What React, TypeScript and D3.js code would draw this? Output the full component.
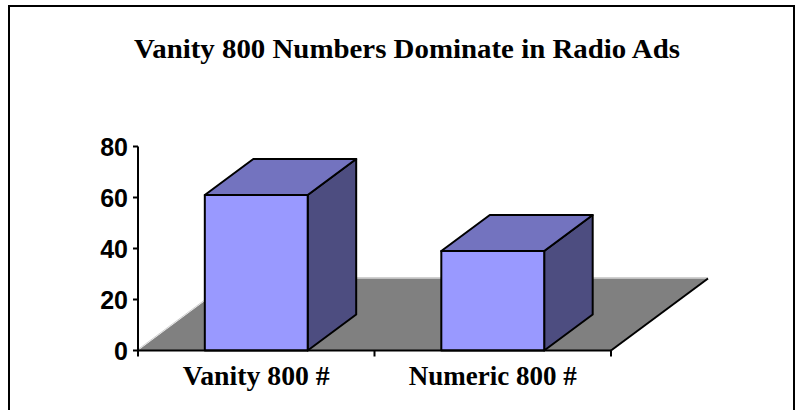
import React from "react";
import * as d3 from "d3";

const categories = ["Vanity 800 #", "Numeric 800 #"];
const values = [61, 39];
const yTicks = [0, 20, 40, 60, 80];
const title = "Vanity 800 Numbers Dominate in Radio Ads";

export default function App() {
  const W = 796, H = 410;
  const x0 = 138, x1 = 611, yBase = 350.5, yTop = 146.5;
  const x = d3.scaleBand<string>().domain(categories).range([x0, x1]).paddingInner(0.565).paddingOuter(0.2825);
  const y = d3.scaleLinear().domain([0, 80]).range([yBase, yTop]);
  const fdx = 97, fdy = -72;
  const bdx = fdx / 2, bdy = fdy / 2;
  const line = d3.line();
  const labelLen = [147, 168];

  const floor = [[x0, yBase], [x1, yBase], [x1 + fdx, yBase + fdy], [x0 + fdx, yBase + fdy]] as [number, number][];

  return (
    <svg width={W} height={H} style={{ position: "absolute", left: 0, top: 0 }}>
      <rect x={0} y={0} width={W} height={H} fill="#fff" />
      <rect x={9} y={6} width={785} height={420} fill="#fff" stroke="#000" strokeWidth={2} />
      <text x={407} y={58} textAnchor="middle" fontFamily="'Liberation Serif', 'Times New Roman', serif" fontWeight="bold" fontSize={28} textLength={546} lengthAdjust="spacingAndGlyphs">{title}</text>

      {/* floor */}
      <path d={line(floor) + "Z"} fill="#808080" stroke="none" />
      <path d={line([[x0, yBase - 1], [x0 + fdx, yBase + fdy - 1], [x1 + fdx, yBase + fdy - 1]])!} fill="none" stroke="#d0d0d0" strokeWidth={1} />
      <path d={line([[x1, yBase], [x1 + fdx, yBase + fdy]])!} fill="none" stroke="#000" strokeWidth={2} />

      {/* bars */}
      {categories.map((c, i) => {
        const bx = x(c)!, bw = x.bandwidth();
        const top = y(values[i]);
        const front = [[bx, yBase], [bx + bw, yBase], [bx + bw, top], [bx, top]] as [number, number][];
        const topFace = [[bx, top], [bx + bw, top], [bx + bw + bdx, top + bdy], [bx + bdx, top + bdy]] as [number, number][];
        const side = [[bx + bw, yBase], [bx + bw + bdx, yBase + bdy], [bx + bw + bdx, top + bdy], [bx + bw, top]] as [number, number][];
        return (
          <g key={c} stroke="#000" strokeWidth={2} strokeLinejoin="round">
            <path d={line(side) + "Z"} fill="#4D4D80" />
            <path d={line(topFace) + "Z"} fill="#7373BF" />
            <path d={line(front) + "Z"} fill="#9999FF" />
          </g>
        );
      })}

      {/* x axis */}
      <line x1={x0} x2={x1} y1={yBase} y2={yBase} stroke="#000" strokeWidth={2} />
      {[x0, (x0 + x1) / 2, x1].map((t, i) => (
        <line key={i} x1={t} x2={t} y1={yBase} y2={yBase + 6} stroke="#000" strokeWidth={2} />
      ))}
      {categories.map((c, i) => (
        <text key={c} x={x(c)! + x.bandwidth() / 2} y={385} textAnchor="middle" fontFamily="'Liberation Serif', 'Times New Roman', serif" fontWeight="bold" fontSize={27} textLength={labelLen[i]} lengthAdjust="spacingAndGlyphs">{c}</text>
      ))}

      {/* y axis */}
      <line x1={x0} x2={x0} y1={yTop} y2={yBase + 1} stroke="#000" strokeWidth={2} />
      {yTicks.map((t) => (
        <g key={t}>
          <line x1={x0 - 5} x2={x0} y1={y(t)} y2={y(t)} stroke="#000" strokeWidth={2} />
          <text x={128} y={y(t) + 9} textAnchor="end" fontFamily="'Liberation Sans', Arial, sans-serif" fontWeight="bold" fontSize={25}>{t}</text>
        </g>
      ))}
    </svg>
  );
}
